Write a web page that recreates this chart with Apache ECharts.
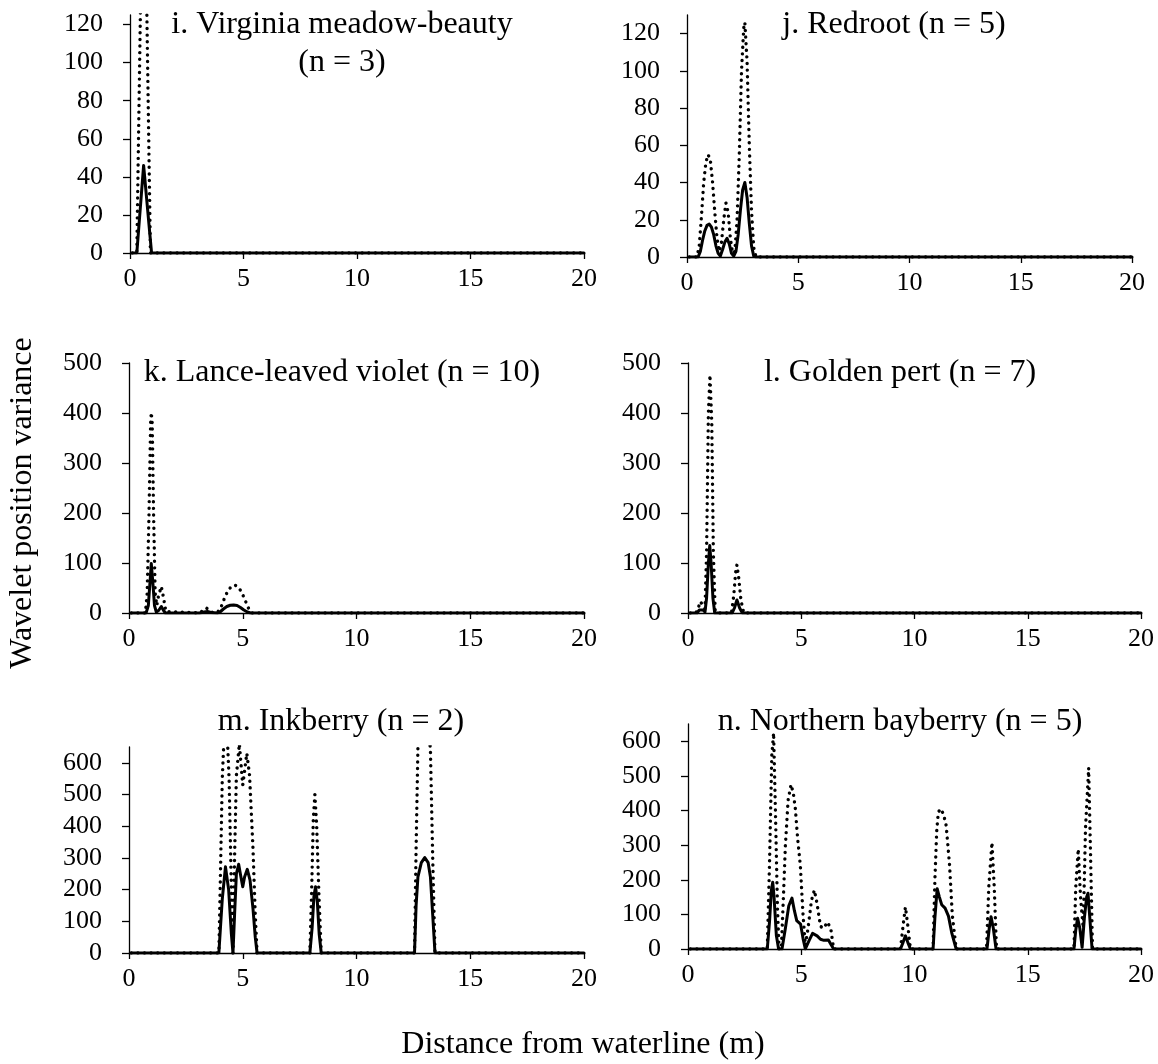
<!DOCTYPE html>
<html>
<head>
<meta charset="utf-8">
<script src="https://cdn.jsdelivr.net/npm/echarts@6/dist/echarts.min.js"></script>
<style>
html,body{margin:0;padding:0;background:#fff;}
#chart{width:1158px;height:1064px;}
</style>
</head>
<body>
<div id="chart"></div>
<script>
// ---------- DATA ----------
const xTicks = [0, 5, 10, 15, 20];
const yTicksI = [0, 20, 40, 60, 80, 100, 120];
const yTicksJ = [0, 20, 40, 60, 80, 100, 120];
const yTicksKL = [0, 100, 200, 300, 400, 500];
const yTicksMN = [0, 100, 200, 300, 400, 500, 600];

const titles = {
  i: ["i. Virginia meadow-beauty", "(n = 3)"],
  j: ["j. Redroot (n = 5)"],
  k: ["k. Lance-leaved violet (n = 10)"],
  l: ["l. Golden pert (n = 7)"],
  m: ["m. Inkberry (n = 2)"],
  n: ["n. Northern bayberry (n = 5)"]
};
const xTitle = "Distance from waterline (m)";
const yTitle = "Wavelet position variance";

// [distance (m), variance]
const iSolid = [[0.1,0],[0.3,0],[0.6,46],[0.95,0],[20,0]];
const iDotted = [[0.1,0],[0.3,0],[0.6,240],[0.9,0],[20,0]];

const jSolid = [[0.1,0],[0.5,0],[0.6,3],[0.7,9],[0.8,14],[0.9,17],[1.0,17.7],[1.1,16],[1.2,12],[1.3,6],[1.4,2],[1.5,0.5],[1.6,4],[1.7,8],[1.8,10],[1.9,7],[2.0,2],[2.1,0.5],[2.2,3],[2.3,12],[2.4,25],[2.5,36],[2.6,40],[2.7,32],[2.8,18],[2.9,6],[3.0,0.5],[3.1,0],[20,0]];
const jDotted = [[0.1,0],[0.45,0],[0.55,6],[0.65,22],[0.75,40],[0.85,51],[0.95,55],[1.05,52],[1.15,40],[1.25,24],[1.35,10],[1.45,3],[1.55,8],[1.65,20],[1.75,29],[1.85,24],[1.95,10],[2.05,2],[2.15,3],[2.25,20],[2.35,55],[2.45,100],[2.55,123],[2.6,126],[2.7,105],[2.8,60],[2.9,25],[3.0,5],[3.1,0],[20,0]];

const kSolid = [[0.1,0],[0.75,0],[0.85,15],[0.92,60],[0.98,99],[1.05,60],[1.12,15],[1.2,2],[1.3,5],[1.42,13],[1.52,5],[1.6,0],[3.1,0],[3.3,2],[3.45,3],[3.6,1],[3.9,0],[4.0,2],[4.15,8],[4.3,13],[4.45,15.5],[4.6,16],[4.75,15],[4.9,11],[5.05,6],[5.2,2],[5.35,0],[20,0]];
const kDotted = [[0.1,0],[0.72,0],[0.8,40],[0.88,200],[0.95,380],[0.98,401],[1.02,380],[1.08,200],[1.15,40],[1.22,15],[1.3,35],[1.42,53],[1.52,30],[1.62,3],[1.7,0],[3.1,0],[3.25,5],[3.4,10],[3.55,5],[3.7,0],[3.9,2],[4.05,12],[4.2,30],[4.35,45],[4.5,53],[4.65,56],[4.8,52],[4.95,42],[5.1,26],[5.25,10],[5.4,0],[20,0]];

const lSolid = [[0.1,0],[0.4,0],[0.5,6],[0.58,10],[0.66,6],[0.75,2],[0.82,30],[0.9,100],[0.96,135],[1.02,100],[1.1,30],[1.18,0],[1.95,0],[2.05,10],[2.16,26],[2.28,10],[2.4,0],[20,0]];
const lDotted = [[0.1,0],[0.35,0],[0.45,10],[0.55,23],[0.65,15],[0.75,8],[0.82,120],[0.9,400],[0.97,476],[1.05,380],[1.12,120],[1.2,5],[1.3,0],[1.92,0],[2.02,35],[2.1,80],[2.16,96],[2.24,70],[2.34,25],[2.46,0],[20,0]];

const mSolid = [[0.1,0],[3.95,0],[4.02,80],[4.1,170],[4.24,272],[4.38,200],[4.5,60],[4.57,0],[4.64,120],[4.72,250],[4.82,280],[4.92,240],[5.0,209],[5.08,240],[5.2,264],[5.32,230],[5.45,140],[5.55,50],[5.63,0],[7.95,0],[8.05,80],[8.13,180],[8.2,209],[8.28,160],[8.36,60],[8.45,0],[12.55,0],[12.62,150],[12.7,240],[12.85,285],[13.0,301],[13.15,285],[13.25,240],[13.35,120],[13.45,0],[20,0]];
const mDotted = [[0.1,0],[3.95,0],[4.02,250],[4.1,550],[4.25,800],[4.4,550],[4.5,200],[4.57,0],[4.64,300],[4.72,560],[4.85,660],[5.0,530],[5.18,630],[5.3,560],[5.45,330],[5.55,120],[5.63,0],[7.95,0],[8.03,200],[8.1,420],[8.17,500],[8.25,400],[8.35,180],[8.45,0],[12.55,0],[12.62,330],[12.7,650],[12.85,730],[13.0,750],[13.15,730],[13.25,640],[13.35,300],[13.45,0],[20,0]];

const nSolid = [[0.1,0],[3.5,0],[3.6,80],[3.68,170],[3.74,193],[3.8,150],[3.9,40],[4.0,0],[4.15,0],[4.3,60],[4.45,125],[4.59,147],[4.7,110],[4.8,82],[4.97,72],[5.08,30],[5.18,0],[5.35,25],[5.5,45],[5.58,50],[5.7,38],[5.85,28],[6.0,25],[6.2,26],[6.32,12],[6.43,0],[9.38,0],[9.5,20],[9.6,38],[9.7,20],[9.82,0],[10.82,0],[10.9,90],[11.0,174],[11.1,150],[11.2,128],[11.35,118],[11.5,95],[11.65,45],[11.84,0],[13.2,0],[13.3,60],[13.38,93],[13.48,60],[13.6,0],[17.04,0],[17.12,55],[17.2,89],[17.3,60],[17.4,5],[17.5,90],[17.6,150],[17.66,161],[17.74,90],[17.84,0],[20,0]];
const nDotted = [[0.1,0],[3.5,0],[3.6,250],[3.7,560],[3.78,624],[3.86,400],[3.95,120],[4.02,0],[4.12,0],[4.2,130],[4.3,300],[4.42,430],[4.55,475],[4.65,450],[4.74,405],[4.84,320],[4.96,241],[5.08,98],[5.18,10],[5.3,60],[5.45,140],[5.58,170],[5.7,130],[5.85,65],[6.0,60],[6.15,78],[6.3,60],[6.43,0],[9.38,0],[9.5,70],[9.6,121],[9.7,70],[9.82,0],[10.82,0],[10.9,200],[10.98,340],[11.05,395],[11.15,405],[11.28,390],[11.4,356],[11.55,241],[11.67,98],[11.84,0],[13.18,0],[13.28,180],[13.42,308],[13.52,180],[13.62,0],[17.04,0],[17.12,180],[17.23,289],[17.33,150],[17.45,60],[17.55,350],[17.69,523],[17.78,250],[17.86,0],[20,0]];

// ---------- LAYOUT ----------
const FONT = '"Liberation Serif", "Times New Roman", serif';
const panels = [
  {key:'i', grid:{left:130, top:15, width:454, height:238}, ymax:125, yTicks:yTicksI, solid:iSolid, dotted:iDotted, tx:342, ty:[25,63]},
  {key:'j', grid:{left:687, top:15, width:445, height:242}, ymax:130, yTicks:yTicksJ, solid:jSolid, dotted:jDotted, tx:894, ty:[25]},
  {key:'k', grid:{left:129, top:363, width:455, height:250}, ymax:500, yTicks:yTicksKL, solid:kSolid, dotted:kDotted, tx:342, ty:[373]},
  {key:'l', grid:{left:688, top:363, width:453, height:250}, ymax:500, yTicks:yTicksKL, solid:lSolid, dotted:lDotted, tx:900, ty:[373]},
  {key:'m', grid:{left:129, top:747, width:455, height:206}, ymax:650, yTicks:yTicksMN, solid:mSolid, dotted:mDotted, tx:341, ty:[722]},
  {key:'n', grid:{left:688, top:724, width:453, height:225}, ymax:650, yTicks:yTicksMN, solid:nSolid, dotted:nDotted, tx:900, ty:[722]}
];

const axisLine = {show:true, onZero:false, lineStyle:{color:'#000', width:1.3}};
const labelStyle = {color:'#000', fontFamily:FONT, fontSize:26};

const grids = [], xAxes = [], yAxes = [], series = [], graphics = [];
panels.forEach((p, idx) => {
  grids.push(Object.assign({containLabel:false}, p.grid));
  xAxes.push({
    type:'value', gridIndex:idx, min:0, max:20, interval:5,
    axisLine:axisLine, splitLine:{show:false},
    axisTick:{show:true, length:6, lineStyle:{color:'#000', width:1.3}, customValues:xTicks},
    axisLabel:Object.assign({margin:13, customValues:xTicks}, labelStyle)
  });
  yAxes.push({
    type:'value', gridIndex:idx, min:0, max:p.ymax,
    axisLine:axisLine, splitLine:{show:false},
    axisTick:{show:true, length:7, lineStyle:{color:'#000', width:1.3}, customValues:p.yTicks},
    axisLabel:Object.assign({margin:27, customValues:p.yTicks}, labelStyle)
  });
  series.push({
    type:'line', xAxisIndex:idx, yAxisIndex:idx, data:p.dotted, showSymbol:false, clip:true,
    lineStyle:{color:'#000', width:3.4, type:[0.01, 6.6], cap:'round', join:'round'}, z:2
  });
  series.push({
    type:'line', xAxisIndex:idx, yAxisIndex:idx, data:p.solid, showSymbol:false, clip:true,
    lineStyle:{color:'#000', width:3, cap:'round', join:'round'}, z:3
  });
  titles[p.key].forEach((t, li) => {
    graphics.push({type:'text', x:p.tx, y:p.ty[li], z:10,
      style:{text:t, fill:'#000', font:'32px ' + FONT, align:'center', verticalAlign:'middle'}});
  });
});

graphics.push({type:'text', x:583, y:1045, z:10,
  style:{text:xTitle, fill:'#000', font:'32px ' + FONT, align:'center', verticalAlign:'middle'}});
graphics.push({type:'text', x:23, y:503, rotation:Math.PI/2, z:10,
  style:{text:yTitle, fill:'#000', font:'32px ' + FONT, align:'center', verticalAlign:'middle'}});

const chart = echarts.init(document.getElementById('chart'), null, {renderer:'canvas'});
chart.setOption({
  animation:false,
  backgroundColor:'#fff',
  grid:grids, xAxis:xAxes, yAxis:yAxes, series:series, graphic:graphics
});
</script>
</body>
</html>
